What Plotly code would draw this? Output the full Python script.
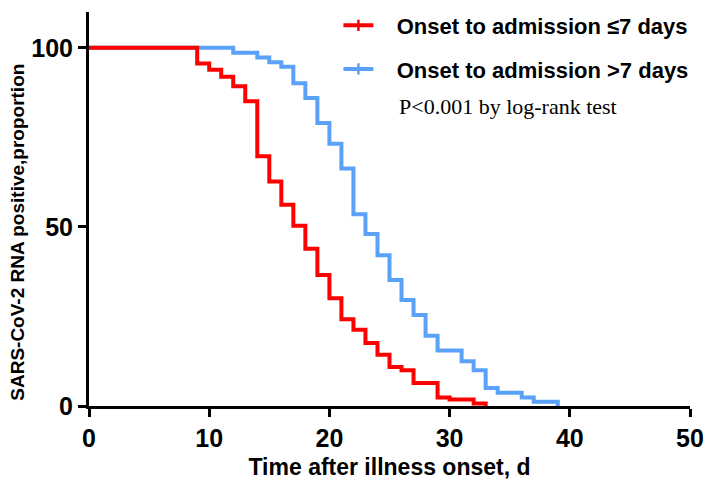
import plotly.graph_objects as go

# Kaplan-Meier style step data (day, % still RNA positive)
red_days = [0, 9, 10, 11, 12, 13, 14, 15, 16, 17, 18, 19, 20, 21, 22, 23, 24, 25, 26, 27, 29, 30, 32, 33]
red_pct = [100, 95.6, 93.9, 91.9, 89.3, 85.1, 69.7, 62.7, 56.2, 50.3, 43.9, 36.6, 30.1, 24.2,
           21.3, 17.6, 14.3, 10.9, 10.0, 6.4, 2.4, 1.8, 0.7, 0]

blue_days = [0, 12, 14, 15, 16, 17, 18, 19, 20, 21, 22, 23, 24, 25, 26, 27, 28, 29, 31, 32, 33, 34, 36, 37, 39]
blue_pct = [100, 98.6, 97.3, 96.0, 94.7, 90.1, 86.0, 79.0, 73.2, 66.3, 53.5, 48.0, 42.1, 35.2,
            29.6, 25.4, 19.6, 15.5, 12.5, 10.0, 5.0, 3.7, 2.4, 1.2, 0]

red_name = "Onset to admission ≤7 days"
blue_name = "Onset to admission >7 days"
p_text = "P<0.001 by log-rank test"
y_title = "SARS-CoV-2 RNA positive,proportion"
x_title = "Time after illness onset, d"

x_ticks = [0, 10, 20, 30, 40, 50]
y_ticks = [0, 50, 100]

RED = "#FF0000"
BLUE = "#5AA2F9"
SANS = "Arial, Liberation Sans, Helvetica, sans-serif"
SERIF = "Times New Roman, Liberation Serif, serif"
PAD = "\u00a0\u00a0\u00a0"

fig = go.Figure()
fig.add_trace(go.Scatter(x=blue_days, y=blue_pct, mode="lines", line=dict(color=BLUE, width=4, shape="hv"),
                         showlegend=False, hoverinfo="skip"))
fig.add_trace(go.Scatter(x=red_days, y=red_pct, mode="lines", line=dict(color=RED, width=4, shape="hv"),
                         showlegend=False, hoverinfo="skip"))
# legend entries (line with censor tick)
for name, col, grp in [(red_name, RED, "a"), (blue_name, BLUE, "b")]:
    fig.add_trace(go.Scatter(x=[None], y=[None], mode="lines+markers", name=PAD + name, legendgroup=grp,
                             line=dict(color=col, width=4),
                             marker=dict(symbol="line-ns", size=8, line=dict(color=col, width=2.5))))

axis_common = dict(showline=True, linewidth=3, linecolor="black", ticks="outside", ticklen=8,
                   tickwidth=3, tickcolor="black", showgrid=False, zeroline=False, automargin=False,
                   tickfont=dict(family=SANS, size=25, color="black", weight="bold"))

fig.update_layout(
    width=709, height=486,
    margin=dict(l=89, r=19, t=5, b=80),
    plot_bgcolor="white", paper_bgcolor="white",
    xaxis=dict(range=[0, 50], tickvals=x_ticks,
               title=dict(text=x_title, standoff=8,
                          font=dict(family=SANS, size=23, color="black", weight="bold")),
               **axis_common),
    yaxis=dict(range=[0, 110], tickvals=y_ticks, **axis_common),
    legend=dict(x=0.415, y=1.019, xanchor="left", yanchor="top", bgcolor="rgba(0,0,0,0)",
                tracegroupgap=12, traceorder="grouped",
                font=dict(family=SANS, size=22, color="black", weight="bold")),
    annotations=[
        dict(text=p_text, x=0.513, y=0.76, xref="paper", yref="paper",
             xanchor="left", yanchor="middle", showarrow=False,
             font=dict(family=SERIF, size=22, color="black")),
        dict(text=y_title, x=-0.118, y=0.44, xref="paper", yref="paper", textangle=-90,
             xanchor="center", yanchor="middle", showarrow=False,
             font=dict(family=SANS, size=19, color="black", weight="bold")),
    ],
)

fig.write_html("out.html", config={"displayModeBar": False},
               post_script="document.body.style.margin='0';")
